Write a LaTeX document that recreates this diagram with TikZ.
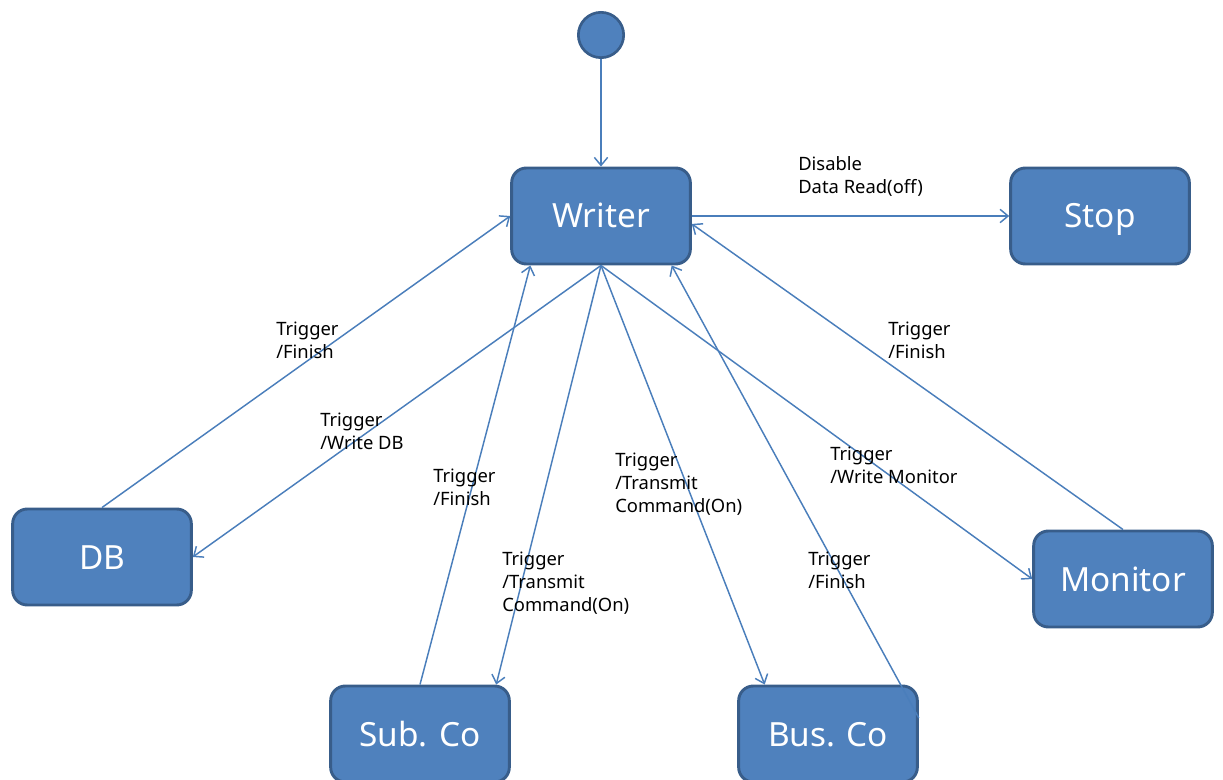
\documentclass[tikz,border=0pt]{standalone}
\usepackage{fontspec}
\setmainfont{Noto Sans}
\usepackage{tikz}
\usetikzlibrary{positioning,arrows.meta,calc}
\definecolor{stfill}{RGB}{79,129,189}
\definecolor{stdraw}{RGB}{56,93,138}
\definecolor{arline}{RGB}{74,126,187}

\begin{document}
\begin{tikzpicture}[
  x=0.75pt,y=-0.75pt,
  st/.style={draw=stdraw,fill=stfill,line width=2.2pt,rounded corners=11pt,
             minimum width=134pt,minimum height=72pt,text=white,
             font=\fontsize{25}{30}\selectfont,inner sep=0pt,
             text height=18pt,text depth=0pt},
  init/.style={circle,draw=stdraw,fill=stfill,line width=2pt,minimum size=34pt,inner sep=0pt},
  ar/.style={draw=arline,line width=1.1pt,-{Straight Barb[length=6pt,width=10pt,line width=1.1pt]}},
  lbl/.style={anchor=north west,align=left,inner sep=0pt,
              font=\fontsize{13.8}{17.2}\selectfont}
]
\useasboundingbox (0,0) rectangle (1223,780);

\node[init] (start) at (601,35) {};
\node[st] (writer) at (601,216) {Writer};
\node[st] (stop) at (1100,216) {Stop};
\node[st] (db) at (102,557) {DB};
\node[st] (monitor) at (1123,579) {Monitor};
\node[st] (subco) at (420,734) {Sub. Co};
\node[st] (busco) at (828,734) {Bus. Co};

\draw[ar] (start) -- (writer);
\draw[ar] (writer.east) -- (stop.west);
\draw[ar] (db.north) -- (writer.west);
\draw[ar] (writer.south) -- (db.east);
\draw[ar] (subco.north) -- (writer.215);
\draw[ar] (writer.south) -- (subco.33);
\draw[ar] (writer.south) -- (busco.142);
\draw[ar] (busco.10) -- (writer.-35);
\draw[ar] (writer.south) -- (monitor.west);
\draw[ar] (monitor.north) -- (writer.-5);

% transition labels
\node[lbl] (lstop) at (798,156) {Disable\\Data Read(off)};
\node[lbl] (ldbf) at (276,322) {Trigger\\/Finish};
\node[lbl] (ldbw) at (320,413) {Trigger\\/Write DB};
\node[lbl] (lsubf) at (433,469) {Trigger\\/Finish};
\node[lbl] (lsubt) at (502,552) {Trigger\\/Transmit\\Command(On)};
\node[lbl] (lbust) at (615,453) {Trigger\\/Transmit\\Command(On)};
\node[lbl] (lmonw) at (830,447) {Trigger\\/Write Monitor};
\node[lbl] (lbusf) at (808,552) {Trigger\\/Finish};
\node[lbl] (lmonf) at (888,322) {Trigger\\/Finish};
\end{tikzpicture}
\end{document}
